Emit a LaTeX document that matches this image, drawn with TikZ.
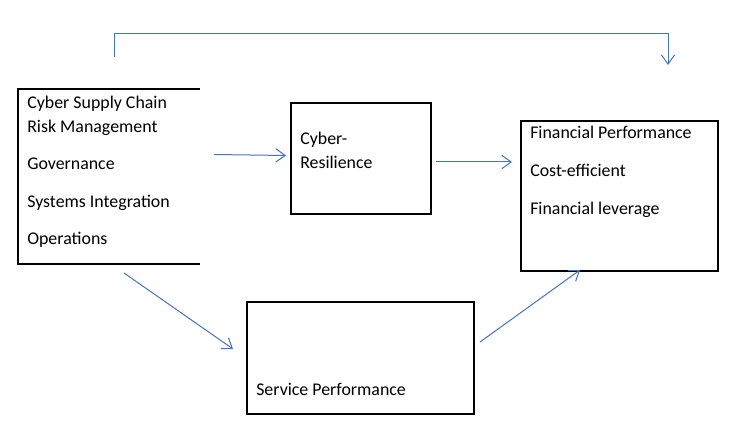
\documentclass[tikz,border=0pt]{standalone}
\usepackage{fontspec}
\setmainfont{Carlito}
\usetikzlibrary{arrows.meta,fit}
\definecolor{arrblue}{RGB}{68,114,196}
\begin{document}
\begin{tikzpicture}[x=0.75pt,y=-0.75pt,
  frame/.style={inner sep=0pt,outer sep=0pt},
  boxdraw/.style={draw=black,line width=0.8pt},
  lbl/.style={anchor=base west,inner sep=0pt,font=\fontsize{13.4pt}{16pt}\selectfont},
  arr/.style={draw=arrblue,line width=0.75pt,-{Straight Barb[length=7pt,width=10pt]}}]
\useasboundingbox (0,0) rectangle (742,427);
% boxes
\node[frame,fit={(18,89)(200,264)}] (b1) {};
\draw[boxdraw] (b1.north east) -- (b1.north west) -- (b1.south west) -- (b1.south east);
\node[frame,boxdraw,fit={(291,103)(431,214)}] (res) {};
\node[frame,boxdraw,fit={(521,121)(718,271)}] (fin) {};
\draw[draw=black,line width=1.5pt] (fin.south west) -- (fin.south east);
\node[frame,boxdraw,fit={(247,302)(474,414)}] (svc) {};
% texts
\node[lbl] (t1) at (27,108.7) {Cyber Supply Chain};
\node[lbl] (t2) at (27,132.3) {Risk Management};
\node[lbl] (t3) at (27,170) {Governance};
\node[lbl] (t4) at (27,207.3) {Systems Integration};
\node[lbl] (t5) at (27,244.3) {Operations};
\node[lbl] (r1) at (300,145) {Cyber-};
\node[lbl] (r2) at (300,168.5) {Resilience};
\node[lbl] (f1) at (530,139) {Financial Performance};
\node[lbl] (f2) at (530,176.7) {Cost-efficient};
\node[lbl] (f3) at (530,214.3) {Financial leverage};
\node[lbl] (s1) at (256,395) {Service Performance};
% connector end points
\coordinate (top0) at (114,57);
\coordinate (top1) at (114,34);
\coordinate (top2) at (668,65);
\coordinate (a1s) at (214,154.5);
\coordinate (a1e) at (286,155.5);
\coordinate (a2s) at (436,162);
\coordinate (a2e) at (512,162);
\coordinate (a3s) at (124,273);
\coordinate (a3e) at (233,349);
\coordinate (a4s) at (480,342);
\coordinate (a4e) at (580,270);
% connectors
\draw[arr] (top0) -- (top1) -| (top2);
\draw[arr] (a1s) -- (a1e);
\draw[arr] (a2s) -- (a2e);
\draw[arr] (a3s) -- (a3e);
\draw[arr] (a4s) -- (a4e);
\end{tikzpicture}
\end{document}
